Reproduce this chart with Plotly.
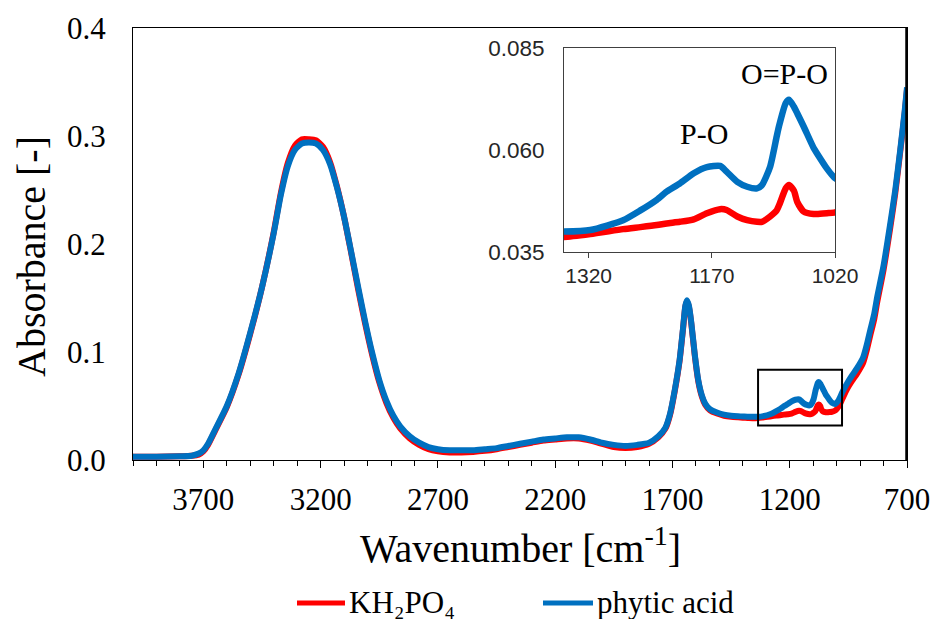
import plotly.graph_objects as go

# ---------------- data ----------------
wavenumber = [
    4000, 3900, 3800, 3750, 3720, 3700, 3680, 3650, 3600, 3550, 3500, 3450, 3400,
    3370, 3340, 3310, 3280, 3250, 3220, 3190, 3160, 3130, 3100, 3070, 3040, 3010,
    2980, 2950, 2920, 2890, 2860, 2820, 2780, 2740, 2700, 2650, 2600, 2550, 2500,
    2450, 2400, 2350, 2300, 2250, 2200, 2150, 2100, 2050, 2000, 1950, 1900, 1850,
    1800, 1760, 1730, 1710, 1690, 1670, 1655, 1645, 1638, 1630, 1620, 1605, 1590,
    1575, 1560, 1540, 1510, 1480, 1450, 1420, 1400, 1380,
    1350, 1318, 1278, 1257, 1237, 1225, 1209, 1192, 1176, 1160, 1152, 1139, 1127,
    1115, 1109, 1099, 1091, 1088, 1080, 1076, 1070, 1066, 1058, 1046, 1042, 1030,
    1020, 1005, 990, 975, 955, 935, 913, 887, 870, 857, 840, 827, 800, 772, 750,
    729, 710, 700,
]

phytic_acid = [
    0.003, 0.003, 0.0035, 0.004, 0.006, 0.009, 0.015, 0.028, 0.050, 0.080, 0.118, 0.160, 0.210,
    0.245, 0.272, 0.287, 0.293, 0.294, 0.293, 0.287, 0.274, 0.252, 0.225, 0.193, 0.160, 0.128,
    0.099, 0.074, 0.055, 0.041, 0.031, 0.022, 0.016, 0.012, 0.010, 0.009, 0.009, 0.009, 0.010,
    0.011, 0.013, 0.015, 0.017, 0.019, 0.020, 0.021, 0.021, 0.019, 0.016, 0.014, 0.013, 0.014,
    0.016, 0.022, 0.030, 0.043, 0.065, 0.092, 0.122, 0.143, 0.148, 0.143, 0.128, 0.098, 0.074,
    0.060, 0.052, 0.047, 0.044, 0.042, 0.041, 0.0405, 0.0403, 0.0401,
    0.0400, 0.0404, 0.0428, 0.0452, 0.0478, 0.0498, 0.0518, 0.0543, 0.0558, 0.0561, 0.0547, 0.0522, 0.0510,
    0.0506, 0.0514, 0.0559, 0.0633, 0.0660, 0.0715, 0.0723, 0.0706, 0.0690, 0.0657, 0.0605, 0.0592, 0.0555,
    0.0531, 0.052, 0.056, 0.063, 0.071, 0.078, 0.085, 0.095, 0.108, 0.120, 0.135, 0.151, 0.180, 0.218, 0.250,
    0.287, 0.323, 0.345,
]

kh2po4 = [
    0.003, 0.003, 0.0035, 0.004, 0.005, 0.008, 0.014, 0.027, 0.049, 0.079, 0.117, 0.160, 0.211,
    0.247, 0.275, 0.291, 0.297, 0.297, 0.296, 0.290, 0.276, 0.253, 0.225, 0.192, 0.158, 0.126,
    0.097, 0.072, 0.053, 0.039, 0.029, 0.020, 0.014, 0.010, 0.008, 0.007, 0.007, 0.0075, 0.0085,
    0.010, 0.012, 0.014, 0.016, 0.018, 0.019, 0.020, 0.020, 0.018, 0.015, 0.012, 0.011, 0.012,
    0.015, 0.021, 0.029, 0.042, 0.064, 0.091, 0.121, 0.142, 0.147, 0.142, 0.127, 0.097, 0.073,
    0.059, 0.051, 0.046, 0.043, 0.041, 0.040, 0.0395, 0.0392, 0.0390,
    0.0387, 0.0394, 0.0406, 0.0411, 0.0416, 0.0420, 0.0424, 0.0430, 0.0445, 0.0455, 0.0453, 0.0437, 0.0428,
    0.0424, 0.0424, 0.0437, 0.0452, 0.0465, 0.0506, 0.0514, 0.0500, 0.0473, 0.0449, 0.0443, 0.0443, 0.0445,
    0.0447, 0.046, 0.050, 0.057, 0.066, 0.073, 0.080, 0.090, 0.103, 0.115, 0.130, 0.146, 0.176, 0.214, 0.247,
    0.285, 0.321, 0.343,
]

series_names = ["KH₂PO₄", "phytic acid"]
main_xticks = [3700, 3200, 2700, 2200, 1700, 1200, 700]
main_yticks = [0.0, 0.1, 0.2, 0.3, 0.4]
inset_xticks = [1320, 1170, 1020]
inset_yticks = [0.035, 0.060, 0.085]
inset_yticktext = ["0.035", "0.060", "0.085"]
peak_labels = ["P-O", "O=P-O"]

RED = "#FF0000"
BLUE = "#0070C0"
SERIF = "Liberation Serif"
SANS = "Liberation Sans"

W, H = 936, 619
def px(x):
    return x / W
def py(y):
    return 1 - y / H

fig = go.Figure()

# main plot
fig.add_trace(go.Scatter(x=wavenumber, y=kh2po4, mode="lines", name=series_names[0],
                         line=dict(color=RED, width=6, shape="spline", smoothing=0.6),
                         xaxis="x", yaxis="y", showlegend=False))
fig.add_trace(go.Scatter(x=wavenumber, y=phytic_acid, mode="lines", name=series_names[1],
                         line=dict(color=BLUE, width=6, shape="spline", smoothing=0.6),
                         xaxis="x", yaxis="y", showlegend=False))
# inset
fig.add_trace(go.Scatter(x=wavenumber, y=kh2po4, mode="lines", name=series_names[0],
                         line=dict(color=RED, width=6.5, shape="spline", smoothing=0.6),
                         xaxis="x2", yaxis="y2", showlegend=False))
fig.add_trace(go.Scatter(x=wavenumber, y=phytic_acid, mode="lines", name=series_names[1],
                         line=dict(color=BLUE, width=6.5, shape="spline", smoothing=0.6),
                         xaxis="x2", yaxis="y2", showlegend=False))

fig.update_layout(
    width=W, height=H,
    margin=dict(l=0, r=0, t=0, b=0, autoexpand=False),
    paper_bgcolor="white", plot_bgcolor="white",
    showlegend=False,
    font=dict(family=SERIF, color="black"),
    xaxis=dict(
        domain=[px(133), px(907)], range=[4000, 700], anchor="y", automargin=False,
        tickmode="array", tickvals=main_xticks, ticktext=[str(v) for v in main_xticks],
        ticks="outside", ticklen=7, tickwidth=1.3, tickcolor="black", ticklabelstandoff=5,
        minor=dict(tickmode="linear", tick0=700, dtick=100, ticks="outside", ticklen=5,
                   tickwidth=1.3, tickcolor="black", showgrid=False),
        showline=True, linecolor="black", linewidth=1.3, mirror=True,
        showgrid=False, zeroline=False,
        tickfont=dict(family=SERIF, size=31, color="black"),
    ),
    yaxis=dict(
        domain=[py(460), py(28)], range=[0, 0.4], anchor="x", automargin=False,
        tickmode="array", tickvals=main_yticks, ticktext=["%.1f" % v for v in main_yticks],
        ticks="", ticklabelstandoff=20,
        showline=True, linecolor="black", linewidth=1.3, mirror=True,
        showgrid=False, zeroline=False,
        tickfont=dict(family=SERIF, size=31, color="black"),
    ),
    xaxis2=dict(
        domain=[px(564), px(835)], range=[1350, 1020], anchor="y2", automargin=False,
        tickmode="array", tickvals=inset_xticks, ticktext=[str(v) for v in inset_xticks],
        ticks="outside", ticklen=5, tickwidth=1, tickcolor="#404040",
        showline=True, linecolor="#404040", linewidth=1, mirror=True,
        showgrid=False, zeroline=False,
        tickfont=dict(family=SANS, size=21, color="#262626"),
    ),
    yaxis2=dict(
        domain=[py(252), py(48)], range=[0.035, 0.085], anchor="x2", automargin=False,
        tickmode="array", tickvals=inset_yticks, ticktext=inset_yticktext,
        ticks="", ticklabelstandoff=14,
        showline=True, linecolor="#404040", linewidth=1, mirror=True,
        showgrid=False, zeroline=False,
        tickfont=dict(family=SANS, size=22.5, color="#262626"),
    ),
)

shapes = [
    # thick right border of the main plot
    dict(type="line", xref="x", yref="y", x0=700, x1=700, y0=0, y1=0.4,
         line=dict(color="black", width=3.5), layer="above"),
    # zoom box
    dict(type="rect", xref="x", yref="y", x0=1335, x1=977, y0=0.032, y1=0.0835,
         line=dict(color="black", width=2), layer="above"),
    # legend samples
    dict(type="line", xref="paper", yref="paper", x0=px(297), x1=px(345), y0=py(603), y1=py(603),
         line=dict(color=RED, width=5)),
    dict(type="line", xref="paper", yref="paper", x0=px(543), x1=px(593), y0=py(603), y1=py(603),
         line=dict(color=BLUE, width=5)),
]
fig.update_layout(shapes=shapes)

annotations = [
    dict(text="Absorbance [-]", xref="paper", yref="paper", x=px(31), y=py(257),
         textangle=-90, showarrow=False, xanchor="center", yanchor="middle",
         font=dict(family=SERIF, size=40, color="black")),
    dict(text="Wavenumber [cm<sup>-1</sup>]", xref="paper", yref="paper", x=px(520), y=py(545),
         showarrow=False, xanchor="center", yanchor="middle",
         font=dict(family=SERIF, size=40, color="black")),
    dict(text=peak_labels[0], xref="paper", yref="paper", x=px(704), y=py(133),
         showarrow=False, xanchor="center", yanchor="middle",
         font=dict(family=SERIF, size=30, color="black")),
    dict(text=peak_labels[1], xref="paper", yref="paper", x=px(784), y=py(73),
         showarrow=False, xanchor="center", yanchor="middle",
         font=dict(family=SERIF, size=30, color="black")),
    dict(text=series_names[0], xref="paper", yref="paper", x=px(347), y=py(602),
         showarrow=False, xanchor="left", yanchor="middle",
         font=dict(family=SERIF, size=31, color="black")),
    dict(text=series_names[1], xref="paper", yref="paper", x=px(595), y=py(602),
         showarrow=False, xanchor="left", yanchor="middle",
         font=dict(family=SERIF, size=31, color="black")),
]
fig.update_layout(annotations=annotations)

fig.write_html("out.html")
